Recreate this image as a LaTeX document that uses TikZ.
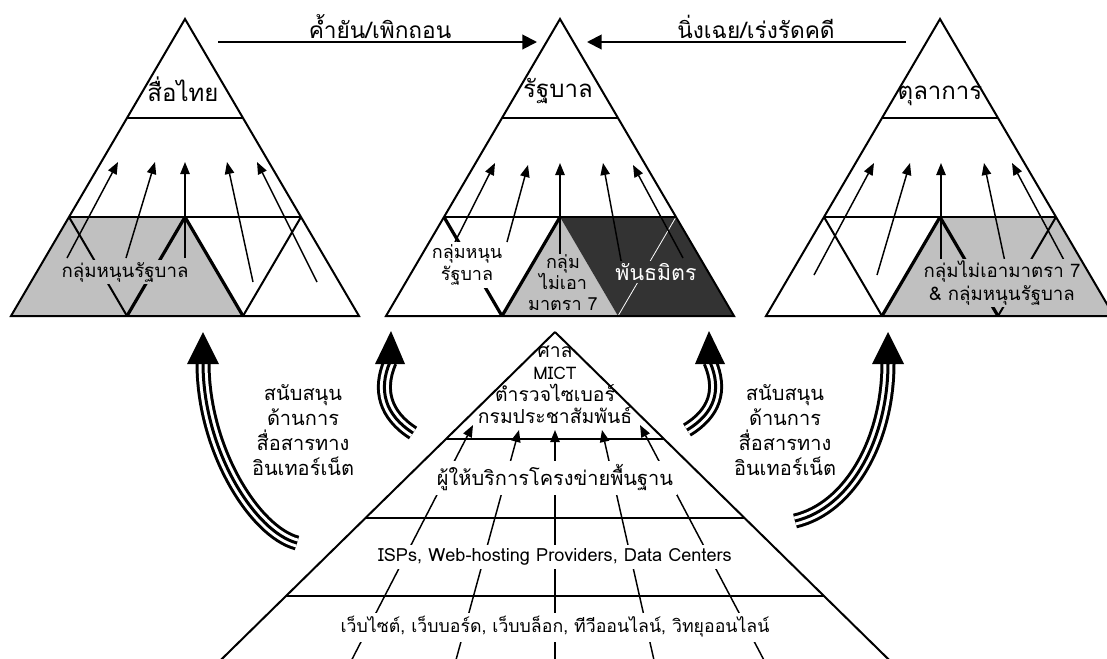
\documentclass[tikz,border=0pt]{standalone}
\usepackage{fontspec}
\setmainfont{Loma}[Script=Thai]
\usetikzlibrary{arrows.meta}
\definecolor{gfill}{RGB}{192,192,192}
\definecolor{dfill}{RGB}{51,51,51}
\newcommand\tripleshaft[1]{%
  \draw[line width=11.25pt] #1;
  \draw[white,line width=6.75pt] #1;
  \draw[line width=2.25pt] #1;}
\newcommand\fs[2]{\fontsize{#1}{#2}\selectfont}
\begin{document}
\begin{tikzpicture}[x=0.75pt,y=-0.75pt,
  edge/.style={line width=1.5pt},
  thk/.style={line width=2.4pt},
  uparr/.style={-{Triangle[length=9pt,width=7pt]},line width=1.1pt},
  bararr/.style={-{Triangle[length=11pt,width=11pt]},line width=1.5pt},
  lbl/.style={inner sep=1.5pt,align=center,font=\fs{12}{16}},
  ttl/.style={inner sep=1pt,font=\fs{18}{21}},
  side/.style={inner sep=1pt,align=center,font=\fs{15}{18.75}}]
\useasboundingbox (0,0) rectangle (1107,658);
\clip (0,0) rectangle (1107,658);
\fill[white] (0,0) rectangle (1107,658);

% ---------------- left pyramid ----------------
\fill[gfill] (11,316) -- (69,217) -- (185,217) -- (243,316) -- cycle;
\draw[edge] (69,217) -- (127,316);
\draw[thk] (185,217) -- (127,316);
\draw[thk] (185,217) -- (243,316);
\draw[edge] (301,217) -- (243,316);
\foreach \a/\b/\c/\d [count=\i] in {67/258/118/162,126/258/155/162,185/258/185/162,253/282/227/162,317/282/257/162}{
  \coordinate (la\i) at (\a,\b); \coordinate (lb\i) at (\c,\d);
  \draw[uparr] (la\i) -- (lb\i);}
\node[lbl,fill=gfill,font=\fs{14}{17}] (lgrp) at (125,272) {กลุ่มหนุนรัฐบาล};
\draw[edge] (185,19) -- (11,316) -- (359,316) -- cycle;
\draw[edge] (127,118) -- (243,118);
\draw[edge] (69,217) -- (301,217);
\node[ttl] (lttl) at (183,89) {สื่อไทย};

% ---------------- middle pyramid ----------------
\fill[gfill] (502,316) -- (560,217) -- (618,316) -- cycle;
\fill[dfill] (560,217) -- (676,217) -- (734,316) -- (618,316) -- cycle;
\draw[thk] (444,217) -- (502,316);
\draw[thk] (502,316) -- (560,217);
\draw[white,line width=0.6pt] (676,217) -- (618,316);
\foreach \a/\b/\c/\d [count=\i] in {455/242/495/163,507/242/528/165,560/254/560/163,625/282/603/163,683/258/633/165}{
  \coordinate (ma\i) at (\a,\b); \coordinate (mb\i) at (\c,\d);
  \draw[uparr] (ma\i) -- (mb\i);}
\node[lbl,fill=white,font=\fs{13.5}{17}] (mgrp) at (467,265) {กลุ่มหนุน\\รัฐบาล};
\node[lbl,font=\fs{13.5}{15.75}] (mno) at (563,283) {กลุ่ม\\ไม่เอา\\มาตรา 7};
\node[lbl,fill=dfill,text=white,font=\fs{16}{19}] (mpad) at (656,272) {พันธมิตร};
\draw[edge] (560,19) -- (386,316) -- (734,316) -- cycle;
\draw[edge] (502,118) -- (618,118);
\draw[edge] (444,217) -- (676,217);
\node[ttl] (mttl) at (558,91) {รัฐบาล};

% ---------------- right pyramid ----------------
\fill[gfill] (882,316) -- (940,217) -- (1056,217) -- (1114,316) -- cycle;
\draw[edge] (824,217) -- (882,316);
\draw[thk] (882,316) -- (940,217);
\draw[thk] (940,217) -- (998,316);
\draw[edge] (998,316) -- (1056,217);
\foreach \a/\b/\c/\d [count=\i] in {814/275/874/163,877/275/910/163,941/262/941/163,1005/262/984/163,1065/262/1012/163}{
  \coordinate (ra\i) at (\a,\b); \coordinate (rb\i) at (\c,\d);
  \draw[uparr] (ra\i) -- (rb\i);}
\node[lbl,fill=gfill,font=\fs{14}{17}] (rgrp) at (1002,283) {กลุ่มไม่เอามาตรา 7\\\& กลุ่มหนุนรัฐบาล};
\draw[edge] (940,19) -- (766,316) -- (1114,316) -- cycle;
\draw[edge] (882,118) -- (998,118);
\draw[edge] (824,217) -- (1056,217);
\node[ttl] (rttl) at (940,96) {ตุลาการ};

% ---------------- top arrows ----------------
\coordinate (t1s) at (218,42); \coordinate (t1e) at (537,42);
\coordinate (t2s) at (906,42); \coordinate (t2e) at (587,42);
\draw[bararr] (t1s) -- (t1e);
\draw[bararr] (t2s) -- (t2e);
\node[lbl,font=\fs{17}{20}] (t1l) at (380,27) {ค้ำยัน/เพิกถอน};
\node[lbl,font=\fs{17}{20}] (t2l) at (756,27) {นิ่งเฉย/เร่งรัดคดี};

% ---------------- bottom pyramid ----------------
\draw[edge] (555,332) -- (178,702);
\draw[edge] (555,332) -- (932,702);
\draw[edge] (446,439) -- (664,439);
\draw[edge] (365,518) -- (745,518);
\draw[edge] (286,596) -- (824,596);
\foreach \a/\b/\c/\d [count=\i] in {331/700/473/425,445/700/519/430,555/700/555/430,663/700/602/430,785/700/640/425}{
  \coordinate (ba\i) at (\a,\b); \coordinate (bb\i) at (\c,\d);
  \draw[uparr] (ba\i) -- (bb\i);}
\node[lbl,font=\fs{14.5}{16.5}] (btop) at (555,385) {ศาล\\{\fs{13}{16.5}MICT}\\ตำรวจไซเบอร์\\กรมประชาสัมพันธ์};
\node[lbl,fill=white,inner sep=3pt,font=\fs{15}{17}] (bl1) at (555,478) {ผู้ให้บริการโครงข่ายพื้นฐาน};
\node[lbl,fill=white,inner sep=3pt,font=\fs{13.6}{15}] (bl2) at (555,557) {ISPs, Web-hosting Providers, Data Centers};
\node[lbl,fill=white,inner sep=3pt,font=\fs{13.3}{15}] (bl3) at (555,627) {เว็บไซต์, เว็บบอร์ด, เว็บบล็อก, ทีวีออนไลน์, วิทยุออนไลน์};

% ---------------- curved support arrows ----------------
\tripleshaft{(297,543) .. controls (255,532) and (203,450) .. (203,363)}
\fill (187,364) -- (219,364) -- (203,332) -- cycle;
\tripleshaft{(413,433) .. controls (385,415) and (378,390) .. (390,362)}
\fill (375,364) -- (405,364) -- (391,331) -- cycle;
\tripleshaft{(687,430) .. controls (715,413) and (722,390) .. (710,362)}
\fill (695,364) -- (725,364) -- (709,331) -- cycle;
\tripleshaft{(795,521) .. controls (850,508) and (888,440) .. (888,363)}
\fill (872,364) -- (904,364) -- (888,332) -- cycle;
\node[side] (sl) at (303,430) {สนับสนุน\\ด้านการ\\สื่อสารทาง\\อินเทอร์เน็ต};
\node[side] (sr) at (785,430) {สนับสนุน\\ด้านการ\\สื่อสารทาง\\อินเทอร์เน็ต};
\end{tikzpicture}
\end{document}
